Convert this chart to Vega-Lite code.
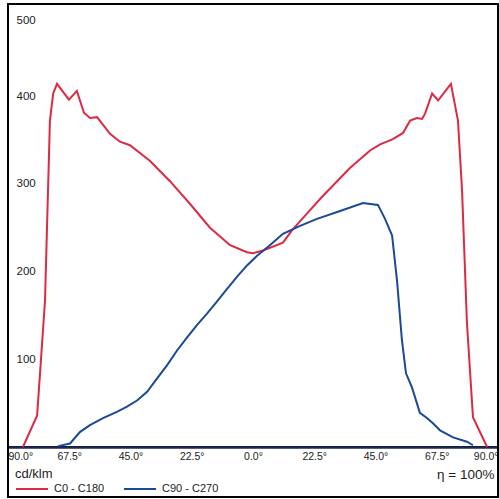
{
  "$schema": "https://vega.github.io/schema/vega-lite/v6.json",
  "width": 490,
  "height": 443,
  "autosize": {"type": "none"},
  "padding": {"left": 8, "top": 4, "right": 1, "bottom": 52},
  "background": "white",
  "config": {
    "view": {"stroke": "#000", "strokeWidth": 2},
    "font": "Liberation Sans"
  },
  "data": {
    "values": [
      {"a": -84.5, "v": 0, "s": "C0 - C180"},
      {"a": -79.3, "v": 36, "s": "C0 - C180"},
      {"a": -76.4, "v": 167, "s": "C0 - C180"},
      {"a": -74.6, "v": 372, "s": "C0 - C180"},
      {"a": -73.4, "v": 403, "s": "C0 - C180"},
      {"a": -72.0, "v": 414, "s": "C0 - C180"},
      {"a": -67.6, "v": 396, "s": "C0 - C180"},
      {"a": -64.7, "v": 406, "s": "C0 - C180"},
      {"a": -62.1, "v": 381, "s": "C0 - C180"},
      {"a": -59.9, "v": 375, "s": "C0 - C180"},
      {"a": -57.3, "v": 376, "s": "C0 - C180"},
      {"a": -52.5, "v": 357, "s": "C0 - C180"},
      {"a": -48.9, "v": 348, "s": "C0 - C180"},
      {"a": -45.2, "v": 344, "s": "C0 - C180"},
      {"a": -37.8, "v": 326, "s": "C0 - C180"},
      {"a": -30.5, "v": 303, "s": "C0 - C180"},
      {"a": -23.1, "v": 277, "s": "C0 - C180"},
      {"a": -15.8, "v": 250, "s": "C0 - C180"},
      {"a": -8.4, "v": 230, "s": "C0 - C180"},
      {"a": -2.2, "v": 222, "s": "C0 - C180"},
      {"a": 0, "v": 221, "s": "C0 - C180"},
      {"a": 3.7, "v": 224, "s": "C0 - C180"},
      {"a": 11.0, "v": 233, "s": "C0 - C180"},
      {"a": 14.3, "v": 247, "s": "C0 - C180"},
      {"a": 19.8, "v": 266, "s": "C0 - C180"},
      {"a": 25.3, "v": 285, "s": "C0 - C180"},
      {"a": 30.9, "v": 303, "s": "C0 - C180"},
      {"a": 35.6, "v": 318, "s": "C0 - C180"},
      {"a": 43.0, "v": 338, "s": "C0 - C180"},
      {"a": 46.7, "v": 345, "s": "C0 - C180"},
      {"a": 51.4, "v": 351, "s": "C0 - C180"},
      {"a": 55.1, "v": 358, "s": "C0 - C180"},
      {"a": 57.7, "v": 372, "s": "C0 - C180"},
      {"a": 60.2, "v": 375, "s": "C0 - C180"},
      {"a": 62.1, "v": 374, "s": "C0 - C180"},
      {"a": 63.2, "v": 380, "s": "C0 - C180"},
      {"a": 65.8, "v": 403, "s": "C0 - C180"},
      {"a": 68.0, "v": 395, "s": "C0 - C180"},
      {"a": 72.7, "v": 414, "s": "C0 - C180"},
      {"a": 75.3, "v": 372, "s": "C0 - C180"},
      {"a": 76.8, "v": 292, "s": "C0 - C180"},
      {"a": 78.6, "v": 141, "s": "C0 - C180"},
      {"a": 80.8, "v": 34, "s": "C0 - C180"},
      {"a": 86.0, "v": 0, "s": "C0 - C180"},
      {"a": -71.6, "v": 1, "s": "C90 - C270"},
      {"a": -67.2, "v": 4, "s": "C90 - C270"},
      {"a": -63.6, "v": 17, "s": "C90 - C270"},
      {"a": -59.9, "v": 25, "s": "C90 - C270"},
      {"a": -55.1, "v": 33, "s": "C90 - C270"},
      {"a": -50.0, "v": 40, "s": "C90 - C270"},
      {"a": -46.3, "v": 46, "s": "C90 - C270"},
      {"a": -42.6, "v": 53, "s": "C90 - C270"},
      {"a": -38.9, "v": 63, "s": "C90 - C270"},
      {"a": -35.3, "v": 78, "s": "C90 - C270"},
      {"a": -31.6, "v": 93, "s": "C90 - C270"},
      {"a": -27.9, "v": 110, "s": "C90 - C270"},
      {"a": -24.2, "v": 125, "s": "C90 - C270"},
      {"a": -20.6, "v": 139, "s": "C90 - C270"},
      {"a": -16.9, "v": 152, "s": "C90 - C270"},
      {"a": -13.2, "v": 166, "s": "C90 - C270"},
      {"a": -9.6, "v": 180, "s": "C90 - C270"},
      {"a": -5.9, "v": 194, "s": "C90 - C270"},
      {"a": -2.2, "v": 207, "s": "C90 - C270"},
      {"a": 1.5, "v": 218, "s": "C90 - C270"},
      {"a": 6.2, "v": 230, "s": "C90 - C270"},
      {"a": 11.0, "v": 243, "s": "C90 - C270"},
      {"a": 17.3, "v": 252, "s": "C90 - C270"},
      {"a": 23.5, "v": 260, "s": "C90 - C270"},
      {"a": 32.0, "v": 269, "s": "C90 - C270"},
      {"a": 40.4, "v": 278, "s": "C90 - C270"},
      {"a": 45.9, "v": 276, "s": "C90 - C270"},
      {"a": 48.5, "v": 260, "s": "C90 - C270"},
      {"a": 51.1, "v": 241, "s": "C90 - C270"},
      {"a": 52.9, "v": 190, "s": "C90 - C270"},
      {"a": 54.7, "v": 122, "s": "C90 - C270"},
      {"a": 56.2, "v": 84, "s": "C90 - C270"},
      {"a": 58.4, "v": 68, "s": "C90 - C270"},
      {"a": 61.3, "v": 39, "s": "C90 - C270"},
      {"a": 63.9, "v": 33, "s": "C90 - C270"},
      {"a": 66.1, "v": 27, "s": "C90 - C270"},
      {"a": 68.7, "v": 19, "s": "C90 - C270"},
      {"a": 73.5, "v": 11, "s": "C90 - C270"},
      {"a": 78.6, "v": 6, "s": "C90 - C270"},
      {"a": 80.8, "v": 2, "s": "C90 - C270"}
    ]
  },
  "layer": [
    {
      "mark": {"type": "rect", "fill": null, "stroke": "#000", "strokeWidth": 2, "clip": false},
      "encoding": {
        "x": {"datum": -90, "type": "quantitative"},
        "x2": {"datum": 90},
        "y": {"datum": 505, "type": "quantitative"},
        "y2": {"datum": -57}
      }
    },
    {
      "mark": {"type": "line", "strokeWidth": 2},
      "encoding": {
        "x": {
          "field": "a",
          "type": "quantitative",
          "scale": {"domain": [-90, 90], "nice": false},
          "axis": {
            "values": [-90, -67.5, -45, -22.5, 0, 22.5, 45, 67.5, 90],
            "labelExpr": "format(abs(datum.value), '.1f') + '°'",
            "labelFlush": true,
            "labelFontSize": 10.5,
            "labelColor": "#222",
            "labelPadding": 4,
            "ticks": false,
            "grid": false,
            "domainColor": "#1b2a55",
            "domainWidth": 2.5,
            "title": "η = 100%",
            "titleFontSize": 13.5,
            "titleFontWeight": "normal",
            "titleColor": "#222",
            "titleX": 486,
            "titleY": 27,
            "titleAlign": "right",
            "titleBaseline": "middle"
          }
        },
        "y": {
          "field": "v",
          "type": "quantitative",
          "scale": {"domain": [0, 505], "nice": false},
          "axis": {
            "values": [100, 200, 300, 400, 500],
            "labelAlign": "left",
            "labelPadding": -8,
            "labelFontSize": 11.5,
            "labelColor": "#222",
            "labelFlush": 6,
            "labelFlushOffset": -6,
            "ticks": false,
            "domain": false,
            "grid": false,
            "title": null
          }
        },
        "color": {
          "field": "s",
          "type": "nominal",
          "scale": {"domain": ["C0 - C180", "C90 - C270"], "range": ["#dc2a44", "#1a4a94"]},
          "legend": {
            "orient": "none",
            "legendX": 7,
            "legendY": 464,
            "direction": "horizontal",
            "title": "cd/klm",
            "titleFontSize": 13,
            "titleFontWeight": "normal",
            "titleColor": "#222",
            "titlePadding": -9,
            "symbolType": "stroke",
            "symbolSize": 1024,
            "symbolStrokeWidth": 2,
            "labelFontSize": 11,
            "labelColor": "#222",
            "labelOffset": 5,
            "columnPadding": 15,
            "padding": 0
          }
        }
      }
    }
  ]
}
